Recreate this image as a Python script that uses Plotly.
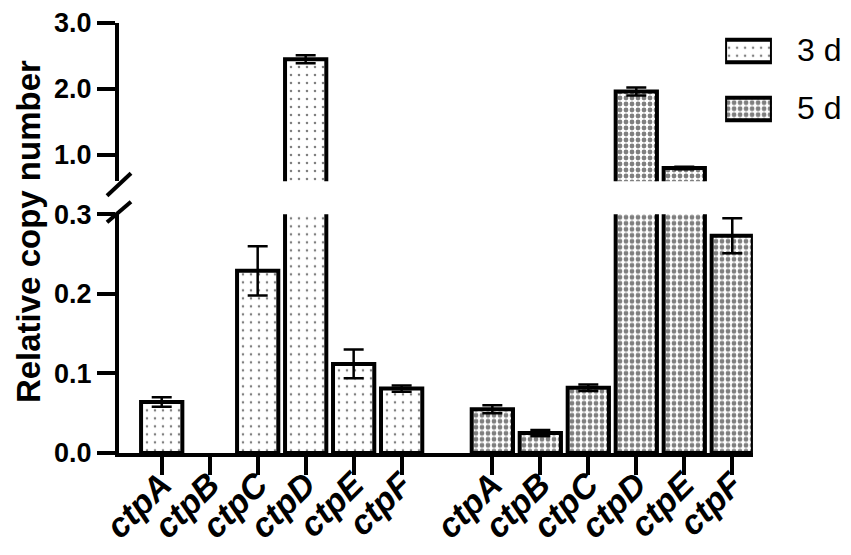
import plotly.graph_objects as go

genes = ["ctpA", "ctpB", "ctpC", "ctpD", "ctpE", "ctpF"]
groups = ["3 d", "5 d"]

# ctpB was not detected at 3 d (no bar in the figure)
val_3d = [0.064, None, 0.229, 2.45, 0.112, 0.081]
err_3d = [0.006, None, 0.031, 0.06, 0.018, 0.004]
val_5d = [0.055, 0.025, 0.082, 1.96, 0.80, 0.273]
err_5d = [0.005, 0.004, 0.004, 0.06, 0.02, 0.022]

FONT = "Arial, 'Liberation Sans', Helvetica, sans-serif"
GROUP_GAP = 6.89   # offset of second group on the numeric x axis

x_3d = [i for i in range(len(genes))]
x_5d = [i + GROUP_GAP for i in range(len(genes))]

pat_3d = dict(shape=".", fgcolor="black", bgcolor="white", size=8, solidity=0.08)
pat_5d = dict(shape=".", fgcolor="black", bgcolor="white", size=6, solidity=0.5)

fig = go.Figure()

# same bars drawn on the lower (0-0.3) and upper (0.6-3.0) axis segments
for yax in ["y", "y2"]:
    for xs, vals, errs, pat in [(x_3d, val_3d, err_3d, pat_3d), (x_5d, val_5d, err_5d, pat_5d)]:
        fig.add_trace(go.Bar(
            x=xs, y=vals, yaxis=yax, xaxis="x", width=0.86,
            marker=dict(color="white", pattern=pat, line=dict(color="black", width=4)),
            error_y=dict(type="data", array=errs, color="black", thickness=2.5, width=10),
            showlegend=False,
        ))

# legend swatches on a hidden axis pair
fig.add_trace(go.Bar(
    x=[1, 1], y=[1, 0], orientation="h", xaxis="x3", yaxis="y3", width=0.39,
    marker=dict(color="white", pattern=dict(shape=[".", "."], fgcolor="black", bgcolor="white",
                                            size=[8, 6], solidity=[0.08, 0.5]),
                line=dict(color="black", width=4)),
    showlegend=False, hoverinfo="skip",
))

tick_font = dict(family=FONT, size=27, color="black", weight="bold")
axis_common = dict(showline=True, linecolor="black", linewidth=4, ticks="outside",
                   ticklen=18, tickwidth=4, tickcolor="black", showgrid=False,
                   zeroline=False, tickfont=tick_font, tickformat=".1f")

# page body has an 8 px margin, so the figure is 8 px smaller and shifted
fig.update_layout(
    width=843, height=547,
    margin=dict(l=111, r=0, t=7, b=102),
    paper_bgcolor="white", plot_bgcolor="white",
    barmode="overlay",
    font=dict(family=FONT, color="black"),
    xaxis=dict(domain=[0, 0.866], range=[-0.89, 12.32], anchor="y",
               showline=True, linecolor="black", linewidth=4, ticks="outside",
               ticklen=18, tickwidth=4, tickcolor="black", showgrid=False, zeroline=False,
               tickvals=x_3d + x_5d,
               ticktext=["<b><i>%s</i></b>" % g for g in genes] * 2,
               tickangle=-45, ticklabelstandoff=-24,
               tickfont=dict(family=FONT, size=34, color="black")),
    yaxis=dict(domain=[0, 0.555], range=[0, 0.3], anchor="x",
               tickvals=[0, 0.1, 0.2, 0.3], **axis_common),
    yaxis2=dict(domain=[0.632, 1.0], range=[0.6, 3.0], anchor="x",
                tickvals=[1, 2, 3], **axis_common),
    xaxis3=dict(domain=[0.828, 0.892], range=[0, 1], anchor="y3", visible=False),
    yaxis3=dict(domain=[0.746, 0.989], range=[-0.4, 1.4], anchor="x3", visible=False),
)

def px(xp, yp):
    return (xp - 119) / 732, (453 - yp) / 438

# axis break marks
for (x0, y0), (x1, y1) in [((107, 191), (131, 168)), ((107, 218), (131, 197))]:
    a0, b0 = px(x0, y0)
    a1, b1 = px(x1, y1)
    fig.add_shape(type="line", xref="paper", yref="paper", x0=a0, y0=b0, x1=a1, y1=b1,
                  line=dict(color="black", width=4))

fig.add_annotation(text="<b>Relative copy number</b>", xref="paper", yref="paper",
                   x=px(28, 0)[0], y=px(0, 228)[1], textangle=-90, showarrow=False,
                   xanchor="center", yanchor="middle",
                   font=dict(family=FONT, size=33, color="black"))

for name, yc in zip(groups, [43, 102]):
    fig.add_annotation(text=name, xref="paper", yref="paper", x=px(795, 0)[0], y=px(0, yc)[1],
                       xanchor="left", yanchor="middle", showarrow=False,
                       font=dict(family=FONT, size=32, color="black"))

fig.write_html("out.html")
